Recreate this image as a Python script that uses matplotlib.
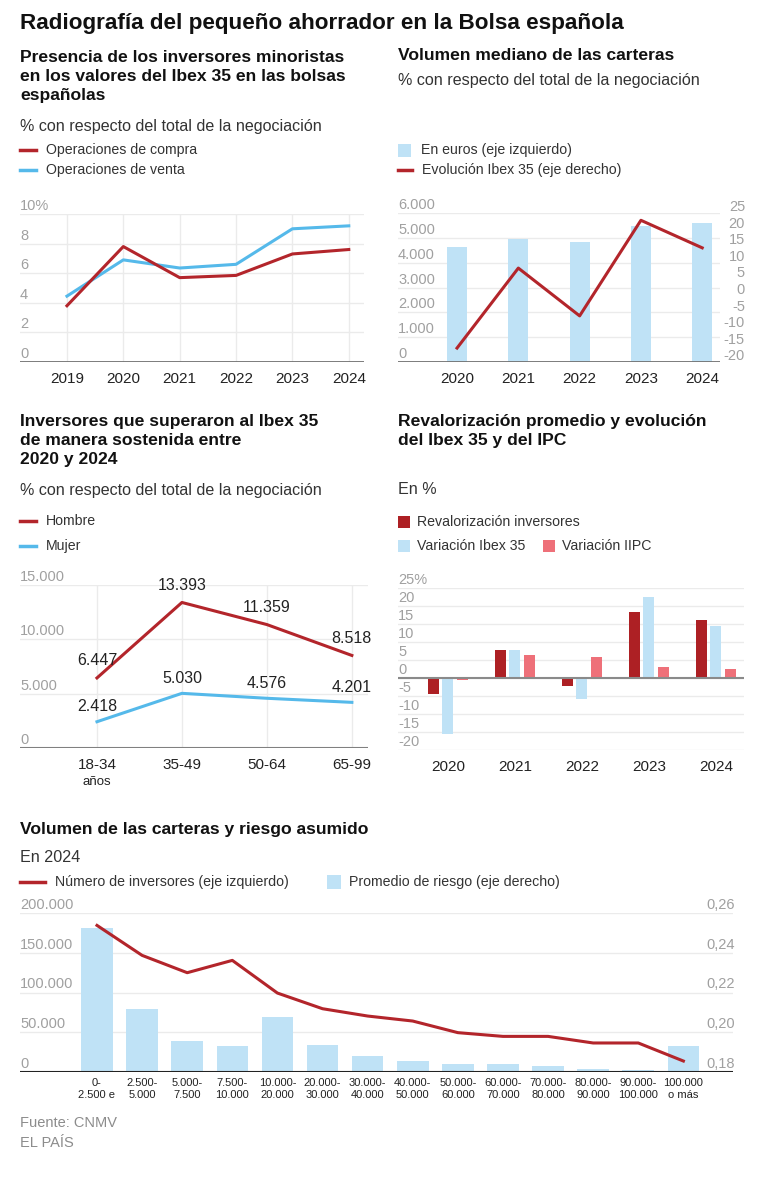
import matplotlib
matplotlib.use('Agg')
import matplotlib.pyplot as plt
import matplotlib.transforms as mtransforms
from matplotlib.lines import Line2D
from matplotlib.patches import Rectangle
import numpy as np

plt.rcParams['font.family'] = ['Liberation Sans', 'DejaVu Sans']

# --- datos ---
anios_ops = ['2019', '2020', '2021', '2022', '2023', '2024']
ops_compra = [3.8, 7.8, 5.7, 5.85, 7.3, 7.6]
ops_venta = [4.45, 6.9, 6.35, 6.6, 9.0, 9.2]

anios_vol = ['2020', '2021', '2022', '2023', '2024']
volumen_euros = [4650, 4950, 4830, 5480, 5600]
ibex_evol = [-17.5, 6.6, -7.8, 21.0, 12.7]

edades = ['18-34', '35-49', '50-64', '65-99']
hombres = [6447, 13393, 11359, 8518]
mujeres = [2418, 5030, 4576, 4201]

anios_rev = ['2020', '2021', '2022', '2023', '2024']
reval_inversores = [-4.4, 7.9, -2.3, 18.2, 16.2]
var_ibex = [-15.5, 7.9, -5.7, 22.5, 14.5]
var_ipc = [-0.6, 6.3, 5.7, 3.1, 2.5]

tramos = ['0-\n2.500 e', '2.500-\n5.000', '5.000-\n7.500', '7.500-\n10.000',
          '10.000-\n20.000', '20.000-\n30.000', '30.000-\n40.000', '40.000-\n50.000',
          '50.000-\n60.000', '60.000-\n70.000', '70.000-\n80.000', '80.000-\n90.000',
          '90.000-\n100.000', '100.000\no más']
num_inversores = [184400, 146700, 124900, 140400, 99300, 79600, 70400,
                  64100, 49500, 44800, 44800, 36500, 36500, 13800]
riesgo = [0.2524, 0.2115, 0.1956, 0.1932, 0.2075, 0.1934, 0.1880,
          0.1857, 0.1839, 0.1839, 0.1828, 0.1817, 0.1810, 0.1932]

# --- estilo ---
RED = '#b3252b'
BLUE = '#55b9ea'
LBLUE = '#bfe2f6'
DRED = '#ad2024'
PINK = '#ee7079'
GRID = '#ebebeb'
GRAY = '#a0a0a0'
DARK = '#222222'

W, H = 773, 1177
fig = plt.figure(figsize=(W / 100, H / 100), dpi=100)


def axes_px(x0, y0, x1, y1):
    ax = fig.add_axes([x0 / W, 1 - y1 / H, (x1 - x0) / W, (y1 - y0) / H])
    for s in ax.spines.values():
        s.set_visible(False)
    ax.tick_params(length=0)
    ax.set_facecolor('none')
    return ax


def txt(x, y, s, **kw):
    fig.text(x / W, 1 - y / H, s, **kw)


def ylabels(ax, vals, labels, x, ha='left', va='bottom', dy=1):
    tr = mtransforms.blended_transform_factory(fig.transFigure, ax.transData)
    tr = mtransforms.offset_copy(tr, fig=fig, y=dy, units='dots')
    for v, l in zip(vals, labels):
        ax.text(x / W, v, l, transform=tr, ha=ha, va=va, color=GRAY, fontsize=10.5)


def hgrid(ax, vals):
    for v in vals:
        ax.axhline(v, color=GRID, lw=1, zorder=0)


def leg_line(x, y, color, text, length=16):
    fig.add_artist(Line2D([x / W, (x + length) / W], [1 - y / H] * 2, color=color, lw=2.5))
    txt(x + length + 10, y, text, va='center', fontsize=10.2, color='#333333')


def leg_box(x, y, color, text, size=13, gap=8):
    fig.add_artist(Rectangle((x / W, 1 - (y + size / 2) / H), size / W, size / H,
                             color=color, lw=0))
    txt(x + size + gap, y, text, va='center', fontsize=10.2, color='#333333')


def fmt_miles(v):
    return f'{v:,}'.replace(',', '.')


HEAD = dict(fontsize=12.6, fontweight='bold', color='#111111', va='top', linespacing=1.32)
SUB = dict(fontsize=11.6, color='#333333', va='center')

# título
txt(20, 23, 'Radiografía del pequeño ahorrador en la Bolsa española',
    fontsize=16.2, fontweight='bold', color='#111111', va='center')

# ---------- gráfico 1 ----------
txt(20, 50, 'Presencia de los inversores minoristas\nen los valores del Ibex 35 en las bolsas\nespañolas', **HEAD)
txt(20, 126, '% con respecto del total de la negociación', **SUB)
leg_line(20, 150, RED, 'Operaciones de compra')
leg_line(20, 170, BLUE, 'Operaciones de venta')

ax1 = axes_px(20, 214, 364, 362)
x1 = np.arange(len(anios_ops))
ax1.set_xlim(-0.833, 5.27)
ax1.set_ylim(0, 10)
hgrid(ax1, [2, 4, 6, 8, 10])
ax1.vlines(x1, 0, 10, color=GRID, lw=1, zorder=0)
ax1.axhline(0, color='#707070', lw=2)
ax1.plot(x1, ops_venta, color=BLUE, lw=2.2)
ax1.plot(x1, ops_compra, color=RED, lw=2.2)
ax1.set_yticks([])
ax1.set_xticks(x1, anios_ops, fontsize=11, color=DARK)
ax1.tick_params(axis='x', pad=7)
ylabels(ax1, [0, 2, 4, 6, 8, 10], ['0', '2', '4', '6', '8', '10%'], 20)

# ---------- gráfico 2 ----------
txt(398, 48, 'Volumen mediano de las carteras', **HEAD)
txt(398, 80, '% con respecto del total de la negociación', **SUB)
leg_box(398, 150, LBLUE, 'En euros (eje izquierdo)', gap=10)
leg_line(398, 170, RED, 'Evolución Ibex 35 (eje derecho)', length=14)

ax2 = axes_px(398, 213, 720, 362)
x2 = np.arange(len(anios_vol))
ax2.set_xlim(-0.963, 4.29)
ax2.set_ylim(0, 6000)
hgrid(ax2, [1000, 2000, 3000, 4000, 5000, 6000])
ax2.bar(x2, volumen_euros, width=0.33, color=LBLUE, zorder=2)
ax2.axhline(0, color='#707070', lw=2, zorder=3)
ax2.set_yticks([])
ax2.set_xticks(x2, anios_vol, fontsize=11, color=DARK)
ax2.tick_params(axis='x', pad=7)
ylabels(ax2, range(0, 7000, 1000), [fmt_miles(v) for v in range(0, 7000, 1000)], 398)
ax2b = ax2.twinx()
for s in ax2b.spines.values():
    s.set_visible(False)
ax2b.set_ylim(-21.7, 23.2)
ax2b.set_yticks([])
ax2b.plot(x2, ibex_evol, color=RED, lw=2.2, zorder=4)
ylabels(ax2b, range(-20, 30, 5), [str(v) for v in range(-20, 30, 5)], 745, ha='right', va='center', dy=0)

# ---------- gráfico 3 ----------
txt(20, 414, 'Inversores que superaron al Ibex 35\nde manera sostenida entre\n2020 y 2024', **HEAD)
txt(20, 490, '% con respecto del total de la negociación', **SUB)
leg_line(20, 521, RED, 'Hombre', length=16)
leg_line(20, 546, BLUE, 'Mujer', length=16)

ax3 = axes_px(20, 585, 368, 748)
x3 = np.arange(len(edades))
ax3.set_xlim(-0.906, 3.19)
ax3.set_ylim(0, 15000)
hgrid(ax3, [5000, 10000, 15000])
ax3.vlines(x3, 0, 15000, color=GRID, lw=1, zorder=0)
ax3.axhline(0, color='#808080', lw=1.5)
ax3.plot(x3, hombres, color=RED, lw=2.2)
ax3.plot(x3, mujeres, color=BLUE, lw=2.2)
for xi, v in zip(x3, hombres):
    ax3.annotate(fmt_miles(v), (xi, v), xytext=(0, 17), textcoords='offset pixels',
                 ha='center', va='center', fontsize=11.5, color=DARK)
for xi, v in zip(x3, mujeres):
    ax3.annotate(fmt_miles(v), (xi, v), xytext=(0, 15), textcoords='offset pixels',
                 ha='center', va='center', fontsize=11.5, color=DARK)
ax3.set_yticks([])
ax3.set_xticks(x3, edades, fontsize=11, color=DARK)
ax3.tick_params(axis='x', pad=7)
txt(97, 782, 'años', ha='center', va='center', fontsize=9.5, color=DARK)
ylabels(ax3, [0, 5000, 10000, 15000], ['0', '5.000', '10.000', '15.000'], 20)

# ---------- gráfico 4 ----------
txt(398, 414, 'Revalorización promedio y evolución\ndel Ibex 35 y del IPC', **HEAD)
txt(398, 490, 'En %', **SUB)
leg_box(398, 522, DRED, 'Revalorización inversores', size=12, gap=7)
leg_box(398, 546, LBLUE, 'Variación Ibex 35', size=12, gap=7)
leg_box(543, 546, PINK, 'Variación IIPC', size=12, gap=7)

ax4 = axes_px(398, 588, 744, 750)
x4 = np.arange(len(anios_rev))
ax4.set_xlim(-0.746, 4.42)
ax4.set_ylim(-20, 25)
hgrid(ax4, range(-20, 30, 5))
off = 0.214
bw = 0.165
ax4.bar(x4 - off, reval_inversores, width=bw, color=DRED, zorder=2)
ax4.bar(x4, var_ibex, width=bw, color=LBLUE, zorder=2)
ax4.bar(x4 + off, var_ipc, width=bw, color=PINK, zorder=2)
ax4.axhline(0, color='#8a8a8a', lw=1.5, zorder=3)
ax4.set_yticks([])
ax4.set_xticks(x4, anios_rev, fontsize=11, color=DARK)
ax4.tick_params(axis='x', pad=7)
ylabels(ax4, range(-20, 30, 5), [str(v) if v != 25 else '25%' for v in range(-20, 30, 5)], 398)

# ---------- gráfico 5 ----------
txt(20, 822, 'Volumen de las carteras y riesgo asumido', **HEAD)
txt(20, 857, 'En 2024', **SUB)
leg_line(20, 882, RED, 'Número de inversores (eje izquierdo)', length=25)
leg_box(327, 882, LBLUE, 'Promedio de riesgo (eje derecho)', size=14, gap=8)

ax5 = axes_px(20, 913, 733, 1072)
x5 = np.arange(len(tramos))
ax5.set_xlim(-1.707, 14.1)
ax5.set_ylim(0.18, 0.26)
hgrid(ax5, [0.20, 0.22, 0.24, 0.26])
ax5.bar(x5, np.array(riesgo) - 0.18, bottom=0.18, width=0.7, color=LBLUE, zorder=2)
ax5.axhline(0.18, color='#222222', lw=1.5, zorder=3)
ax5.set_yticks([])
ax5.set_xticks(x5, tramos, fontsize=8, color=DARK, linespacing=1.3)
ax5.tick_params(axis='x', pad=4)
ylabels(ax5, [0.18, 0.20, 0.22, 0.24, 0.26], ['0,18', '0,20', '0,22', '0,24', '0,26'], 735, ha='right')
ax5b = ax5.twinx()
for s in ax5b.spines.values():
    s.set_visible(False)
ax5b.set_ylim(0, 200000)
ax5b.set_yticks([])
ax5b.plot(x5, num_inversores, color=RED, lw=2.2, zorder=4)
ylabels(ax5b, range(0, 250000, 50000), [fmt_miles(v) for v in range(0, 250000, 50000)], 20)

# pie
txt(20, 1123, 'Fuente: CNMV', va='center', fontsize=10.5, color='#8c8c8c')
txt(20, 1143, 'EL PAÍS', va='center', fontsize=10.5, color='#8c8c8c')

fig.savefig('out.png', dpi=100)
